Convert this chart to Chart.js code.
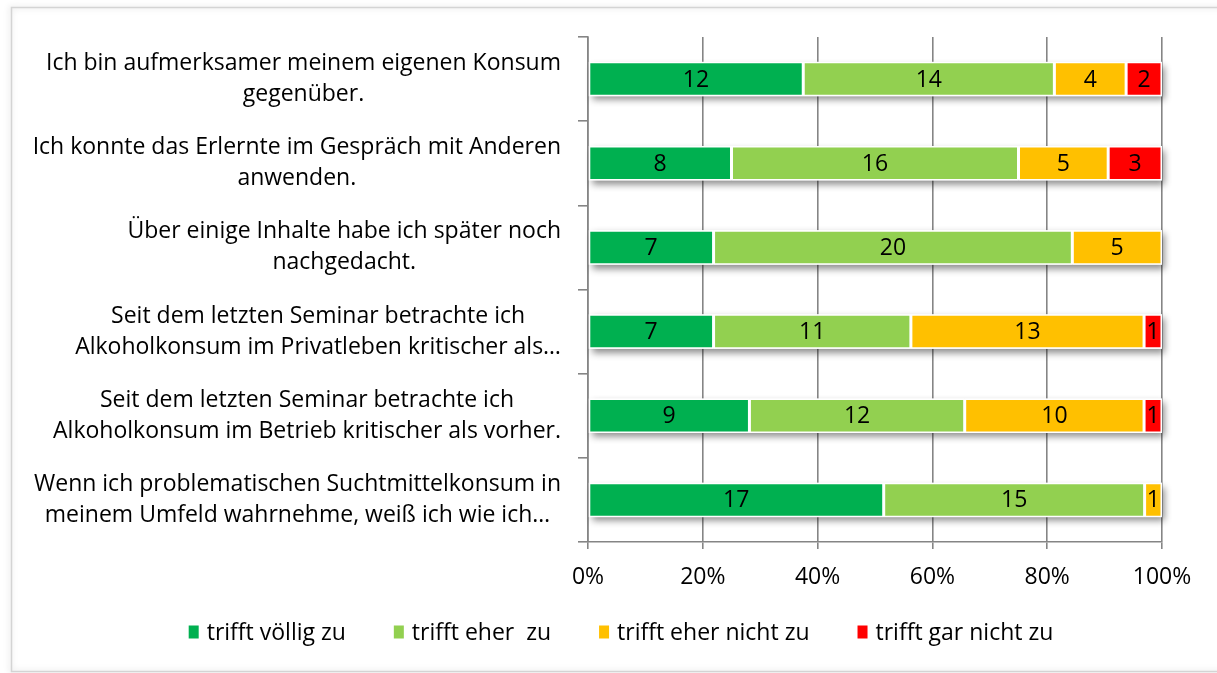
<!DOCTYPE html>
<html>
<head>
<meta charset="utf-8">
<script src="https://cdn.jsdelivr.net/npm/chart.js@4.4.1/dist/chart.umd.min.js"></script>
<style>
  html, body { margin: 0; padding: 0; background: #fff; }
  #wrap { width: 1217px; height: 673px; position: relative; }
</style>
</head>
<body>
<div id="wrap"><canvas id="c" width="1217" height="673"></canvas></div>
<script>
// ---- Data ----
const categories = [
  ["Ich bin aufmerksamer meinem eigenen Konsum", "gegenüber."],
  ["Ich konnte das Erlernte im Gespräch mit Anderen", "anwenden."],
  ["Über einige Inhalte habe ich später noch", "nachgedacht."],
  ["Seit dem letzten Seminar betrachte ich", "Alkoholkonsum im Privatleben kritischer als…"],
  ["Seit dem letzten Seminar betrachte ich", "Alkoholkonsum im Betrieb kritischer als vorher."],
  ["Wenn ich problematischen Suchtmittelkonsum in", "meinem Umfeld wahrnehme, weiß ich wie ich…"]
];
const seriesNames = ["trifft völlig zu", "trifft eher  zu", "trifft eher nicht zu", "trifft gar nicht zu"];
const trifftVoelligZu   = [12, 8, 7, 7, 9, 17];
const trifftEherZu      = [14, 16, 20, 11, 12, 15];
const trifftEherNichtZu = [4, 5, 5, 13, 10, 1];
const trifftGarNichtZu  = [2, 3, 0, 1, 1, 0];
const xTickLabels = ["0%", "20%", "40%", "60%", "80%", "100%"];

const seriesCounts = [trifftVoelligZu, trifftEherZu, trifftEherNichtZu, trifftGarNichtZu];
const colors = ["#00B050", "#92D050", "#FFC000", "#FF0000"];
const totals = categories.map((_, i) => seriesCounts.reduce((s, arr) => s + arr[i], 0));

const FONT = "'Open Sans', Lato, sans-serif";
const FS = 23;

const datasets = seriesCounts.map((arr, k) => ({
  label: seriesNames[k],
  counts: arr,
  data: arr.map((v, i) => v / totals[i] * 100),
  backgroundColor: colors[k],
  borderColor: "#ffffff",
  borderWidth: 1.5,
  borderSkipped: false,
  categoryPercentage: 1,
  barPercentage: 0.41
}));

const frame = {
  id: "frame",
  beforeDraw(chart) {
    const ctx = chart.ctx;
    ctx.save();
    ctx.fillStyle = "#fff";
    ctx.fillRect(0, 0, chart.width, chart.height);
    ctx.shadowColor = "rgba(0,0,0,0.18)";
    ctx.shadowBlur = 6;
    ctx.shadowOffsetX = -1;
    ctx.shadowOffsetY = 0;
    ctx.strokeStyle = "#d4d4d4";
    ctx.lineWidth = 1.5;
    ctx.strokeRect(11.5, 7.5, chart.width + 20, 664);
    ctx.restore();
  }
};

const barShadow = {
  id: "barShadow",
  beforeDatasetsDraw(chart) {
    const ctx = chart.ctx;
    const metas = chart.data.datasets.map((_, k) => chart.getDatasetMeta(k));
    ctx.save();
    ctx.shadowColor = "rgba(0,0,0,0.45)";
    ctx.shadowBlur = 7;
    ctx.shadowOffsetX = 3;
    ctx.shadowOffsetY = 4;
    ctx.fillStyle = "#fff";
    chart.data.labels.forEach((_, i) => {
      let left = Infinity, right = -Infinity, top = 0, h = 0;
      metas.forEach(m => {
        const el = m.data[i];
        left = Math.min(left, el.base, el.x);
        right = Math.max(right, el.base, el.x);
        top = el.y - el.height / 2; h = el.height;
      });
      ctx.fillRect(left, top, right - left, h);
    });
    ctx.restore();
  },
  afterDatasetsDraw(chart) {
    const ctx = chart.ctx;
    ctx.save();
    ctx.font = FS + "px " + FONT;
    ctx.fillStyle = "#000";
    ctx.textAlign = "center";
    ctx.textBaseline = "middle";
    chart.data.datasets.forEach((ds, k) => {
      const meta = chart.getDatasetMeta(k);
      meta.data.forEach((el, i) => {
        const v = ds.counts[i];
        if (!v) return;
        ctx.fillText(String(v), (el.x + el.base) / 2, el.y + 1);
      });
    });
    ctx.restore();
  }
};

const catLabels = {
  id: "catLabels",
  afterDraw(chart) {
    const ctx = chart.ctx;
    const ys = chart.scales.y;
    ctx.save();
    ctx.font = FS + "px " + FONT;
    ctx.fillStyle = "#000";
    ctx.textAlign = "center";
    ctx.textBaseline = "middle";
    const rightEdge = ys.right - 27;
    chart.data.labels.forEach((lines, i) => {
      const yc = ys.getPixelForValue(i);
      const w = Math.max(...lines.map(l => ctx.measureText(l).width));
      const cx = rightEdge - w / 2;
      const lh = 31;
      lines.forEach((l, j) => {
        ctx.fillText(l, cx, yc + (j - (lines.length - 1) / 2) * lh);
      });
    });
    ctx.restore();
  }
};

// Legend drawn from the chart's datasets (label + colour)
const bottomLegend = {
  id: "bottomLegend",
  afterDraw(chart) {
    const ctx = chart.ctx;
    ctx.save();
    ctx.font = FS + "px " + FONT;
    ctx.textBaseline = "middle";
    ctx.textAlign = "left";
    const boxW = 10, boxH = 13, textGap = 8, itemGap = 48, centerX = 621, yc = 632;
    const items = chart.data.datasets.map(ds => ({ text: ds.label, color: ds.backgroundColor, w: ctx.measureText(ds.label).width }));
    const total = items.reduce((s, it) => s + boxW + textGap + it.w, 0) + itemGap * (items.length - 1);
    let x = centerX - total / 2;
    items.forEach(it => {
      ctx.fillStyle = it.color;
      ctx.fillRect(x, yc - boxH / 2, boxW, boxH);
      ctx.fillStyle = "#000";
      ctx.fillText(it.text, x + boxW + textGap, yc + 1);
      x += boxW + textGap + it.w + itemGap;
    });
    ctx.restore();
  }
};

new Chart(document.getElementById("c"), {
  type: "bar",
  data: { labels: categories, datasets },
  options: {
    indexAxis: "y",
    responsive: false,
    animation: false,
    devicePixelRatio: 1,
    layout: { padding: { left: 80, right: 55, top: 37, bottom: 69 } },
    scales: {
      x: {
        stacked: true,
        min: 0, max: 100,
        ticks: {
          stepSize: 20,
          padding: 15,
          color: "#000",
          font: { family: FONT, size: FS },
          callback: (v, i) => xTickLabels[i]
        },
        grid: { color: "#858585", lineWidth: 1.6, tickLength: 7, drawTicks: true },
        border: { color: "#858585", width: 1.6 },
        afterFit(s) { s.height = 62; }
      },
      y: {
        stacked: true,
        ticks: { display: false },
        grid: { drawOnChartArea: false, drawTicks: true, tickLength: 10, color: "#858585", lineWidth: 1.6, offset: true },
        border: { color: "#858585", width: 1.6 },
        afterFit(s) { s.width = 508; }
      }
    },
    plugins: {
      legend: { display: false },
      tooltip: { enabled: false }
    }
  },
  plugins: [frame, barShadow, catLabels, bottomLegend]
});
</script>
</body>
</html>
